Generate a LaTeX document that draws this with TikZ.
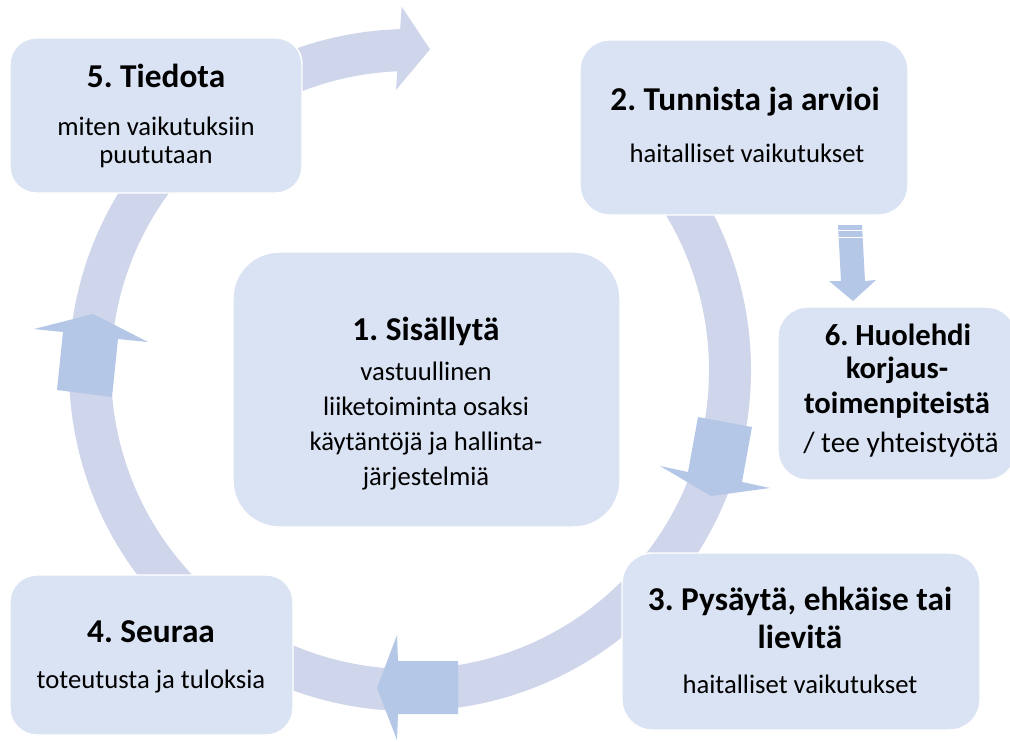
\documentclass[tikz,border=0pt]{standalone}
\usepackage{fontspec}
\setmainfont{Carlito}
\usepackage{tikz}
\frenchspacing
\definecolor{boxfill}{HTML}{DAE3F3}
\definecolor{ringfill}{HTML}{CFD5EA}
\definecolor{arrowfill}{HTML}{B4C7E7}
\tikzset{
  box/.style={fill=boxfill, draw=white, line width=1.1pt},
  blockarrow/.style={fill=arrowfill},
  ttl/.style={anchor=base, inner sep=0pt, font=\fontsize{25}{30}\selectfont\bfseries},
  txt/.style={anchor=base, inner sep=0pt, font=\fontsize{20}{24}\selectfont},
  ttlsix/.style={anchor=base, inner sep=0pt, font=\fontsize{23}{28}\selectfont\bfseries},
  txtsix/.style={anchor=base, inner sep=0pt, font=\fontsize{22}{26}\selectfont},
}
\begin{document}
\begin{tikzpicture}[x=0.75pt,y=0.75pt,yscale=-1,xscale=1]
\useasboundingbox (0,0) rectangle (1010,742);
\fill[white] (0,0) rectangle (1010,742);

%Shape: Circular Arrow
\coordinate (ring) at (410,370);
\draw[ringfill, line width=31.5pt] ([shift={(-50:320)}]ring) arc[start angle=-50, end angle=268.5, radius=320];
\fill[ringfill] (401.7,6.7) -- (430,49.3) -- (396,90) -- cycle;

%Shape: Up Arrow
\fill[blockarrow] (57,390) -- (63,332) -- (34,329) -- (93,314) -- (148,342) -- (118,339) -- (112,397) -- cycle;
%Shape: Down Arrow
\fill[blockarrow] (698,417) -- (752,427) -- (742,482) -- (770,488) -- (711,496) -- (660,466) -- (688,472) -- cycle;
%Shape: Left Arrow
\fill[blockarrow] (458,661) -- (398,661) -- (397,635) -- (377,688) -- (397,740) -- (398,714) -- (458,714) -- cycle;
%Shape: Striped Down Arrow
\fill[blockarrow] (838,225) -- (862,225) -- (865,281) -- (876,280) -- (853,301) -- (829,281) -- (841,281) -- cycle;
\draw[white, line width=0.9pt] (836,230.5) -- (864,230.5) (836,237.3) -- (864,237.3);

%Shape: Rounded Rectangles
\draw[box, rounded corners=19.5pt] (10,38) rectangle (302,193);
\draw[box, rounded corners=22pt] (580,40) rectangle (908,215);
\draw[box, rounded corners=34.5pt] (233,252) rectangle (620,527);
\draw[box, rounded corners=22pt] (778,307) rectangle (1016,480);
\draw[box, rounded corners=22.5pt] (622,553) rectangle (980,730);
\draw[box, rounded corners=20pt] (10,575) rectangle (293,735);

% Text Node
\node[ttl] (tiedota) at (156,88) {5. Tiedota};
\node[txt] (tiedotaa) at (156,135) {miten vaikutuksiin};
\node[txt] (tiedotab) at (156,163) {puututaan};
% Text Node
\node[ttl] (tunnista) at (745,110) {2. Tunnista ja arvioi};
\node[txt] (tunnistaa) at (747,162) {haitalliset vaikutukset};
% Text Node
\node[ttl] (sisallyta) at (426,340) {1. Sisällytä};
\node[txt] (sisallytaa) at (426,380) {vastuullinen};
\node[txt] (sisallytab) at (426,415) {liiketoiminta osaksi};
\node[txt] (sisallytac) at (426,450) {käytäntöjä ja hallinta-};
\node[txt] (sisallytad) at (426,485) {järjestelmiä};
% Text Node
\node[ttlsix] (huolehdi) at (898,345) {6. Huolehdi};
\node[ttlsix] (huolehdia) at (897,378) {korjaus-};
\node[ttlsix] (huolehdib) at (897,413) {toimenpiteistä};
\node[txtsix] (huolehdic) at (901,452) {/ tee yhteistyötä};
% Text Node
\node[ttl] (pysayta) at (800,610) {3. Pysäytä, ehkäise tai};
\node[ttl] (pysaytaa) at (800,648) {lievitä};
\node[txt] (pysaytab) at (800,693) {haitalliset vaikutukset};
% Text Node
\node[ttl] (seuraa) at (151,642) {4. Seuraa};
\node[txt] (seuraaa) at (151,688) {toteutusta ja tuloksia};

\end{tikzpicture}
\end{document}
